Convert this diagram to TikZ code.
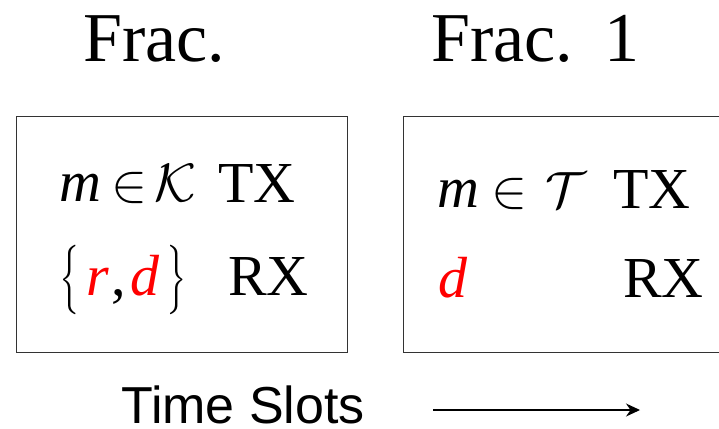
\documentclass[tikz,border=0pt]{standalone}
\usepackage{graphicx}
\usepackage{fontspec}
\setmainfont{Liberation Serif}
\newfontfamily\arialfont{Liberation Sans}
\usetikzlibrary{arrows.meta}
\newcommand\mscaled[3]{\scalebox{#1}[#2]{\fontsize{10}{12}\selectfont$#3$}}
\tikzset{
  title/.style={anchor=base west, inner sep=0pt, font=\fontsize{70}{78}\selectfont},
  boxtxt/.style={anchor=base west, inner sep=0pt, font=\fontsize{58}{64}\selectfont},
  symb/.style={anchor=base, inner sep=0pt},
  brace/.style={anchor=center, inner sep=0pt},
  slotbox/.style={draw=black!80, line width=0.9pt},
  sanstxt/.style={anchor=base west, inner sep=0pt, text depth=0pt, font=\arialfont\fontsize{52}{58}\selectfont},
  timearrow/.style={line width=1.1pt, -{Stealth[length=14pt,width=13pt]}}
}
\begin{document}
\begin{tikzpicture}[x=1pt,y=-1pt]
\useasboundingbox (0,0) rectangle (719,428);
% titles
\node[title] (tL) at (83,61) {Frac.};
\node[title] (tR) at (431,61) {Frac.\hspace{0.45em}1};
% left box
\draw[slotbox] (16.5,116.5) rectangle (347,352);
\node[boxtxt] (mL) at (59,201) {\textit{m}};
\node[symb] (inL) at (129,201) {\mscaled{5.4}{5.4}{\in}};
\node[symb] (kL) at (175,201) {\mscaled{5.4}{5.4}{\mathcal{K}}};
\node[boxtxt] (txL) at (218,202) {TX};
\node[brace] (lbL) at (70,280) {\mscaled{3.5}{5.8}{\bigl\{}};
\node[boxtxt, text=red] (rL) at (86,295) {\textit{r}};
\node[boxtxt] (cL) at (111,295) {,};
\node[boxtxt, text=red] (dL) at (130,295) {\textit{d}};
\node[brace] (rbL) at (176.5,280) {\mscaled{3.5}{5.8}{\bigr\}}};
\node[boxtxt] (rxL) at (228,295) {RX};
% right box (right side beyond the picture)
\draw[slotbox] (719,116.5) -- (403.5,116.5) -- (403.5,352) -- (719,352);
\node[boxtxt] (mR) at (437,207) {\textit{m}};
\node[symb] (inR) at (509,207) {\mscaled{5.4}{5.4}{\in}};
\node[symb] (tcR) at (566,207) {\mscaled{5.1}{5.1}{\mathcal{T}}};
\node[boxtxt] (txR) at (613,208) {TX};
\node[boxtxt, text=red] (dR) at (438,297) {\textit{d}};
\node[boxtxt] (rxR) at (623,297) {RX};
% time slots
\node[sanstxt] (ts) at (121,423) {Time Slots};
\coordinate (a0) at (433,410);
\coordinate (a1) at (640,410);
\draw[timearrow] (a0) -- (a1);
\end{tikzpicture}
\end{document}
